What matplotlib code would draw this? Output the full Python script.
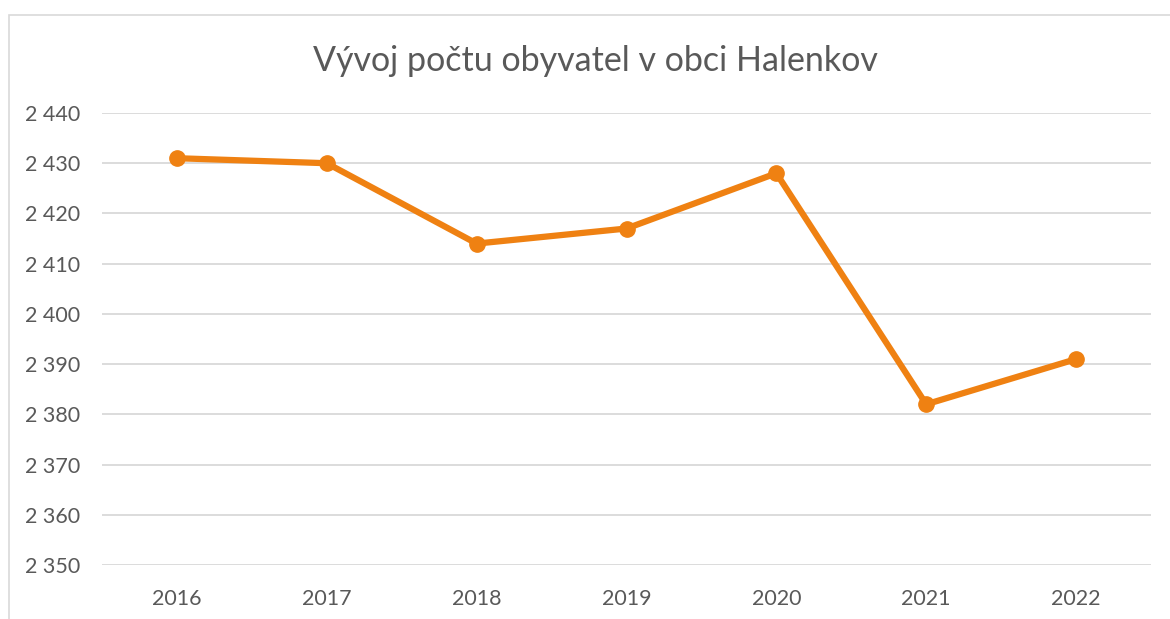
import matplotlib.pyplot as plt
from matplotlib.patches import Rectangle

# population of Halenkov by year
years = ['2016', '2017', '2018', '2019', '2020', '2021', '2022']
population = [2431, 2430, 2414, 2417, 2428, 2382, 2391]
y_ticks = [2350, 2360, 2370, 2380, 2390, 2400, 2410, 2420, 2430, 2440]

W, H = 1170, 619
fig = plt.figure(figsize=(W / 100, H / 100), dpi=100)
ax = fig.add_axes([102 / W, (H - 565) / H, (1151 - 102) / W, (565 - 113) / H])

# light chart frame, cut off at right and bottom like the screenshot
fig.patches.append(Rectangle((8.5 / W, -0.1), 1.2, (H - 14.5) / H + 0.1,
                             transform=fig.transFigure, fill=False,
                             edgecolor='#d9d9d9', linewidth=1.2))

x = range(len(years))
ax.plot(x, population, color='#EF8112', linewidth=4.5, marker='o',
        markersize=11, solid_capstyle='round', zorder=3)

ax.set_xlim(-0.5, len(years) - 0.5)
ax.set_ylim(y_ticks[0], y_ticks[-1])
ax.set_yticks(y_ticks)
ax.set_yticklabels(['{:,}'.format(v).replace(',', ' ') for v in y_ticks])
ax.set_xticks(list(x))
ax.set_xticklabels(years)
ax.grid(axis='y', color='#d9d9d9', linewidth=1.3)
ax.set_axisbelow(True)
for s in ax.spines.values():
    s.set_visible(False)
ax.tick_params(length=0, labelsize=15.5, labelcolor='#595959')
ax.tick_params(axis='x', pad=17)
ax.tick_params(axis='y', pad=16)
for lab in ax.get_xticklabels() + ax.get_yticklabels():
    lab.set_family('Lato')

fig.text(595 / W, 1 - 61 / H, 'Vývoj počtu obyvatel v obci Halenkov',
         ha='center', va='center', fontsize=24.5, color='#595959', family='Lato')

fig.savefig('out.png', dpi=100)
